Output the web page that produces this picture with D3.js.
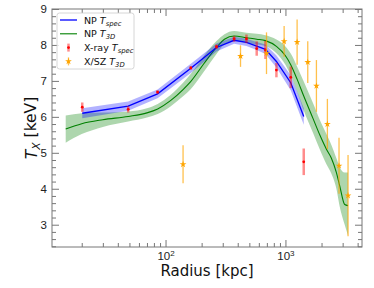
<!DOCTYPE html>
<html>
<head>
<meta charset="utf-8">
<script src="https://cdn.jsdelivr.net/npm/d3@7"></script>
<style>
  body { margin: 0; background: #fff; }
  svg { font-family: "DejaVu Sans", sans-serif; }
</style>
</head>
<body>
<div id="wrapper"></div>
<script>
// NP T_spec (blue) model
const specR = [20.2, 48.8, 85.8, 162.5, 266, 373, 473, 576, 681, 841, 1107, 1421];
const specMid = [6.10, 6.30, 6.64, 7.35, 7.93, 8.13, 8.07, 7.97, 7.88, 7.54, 6.95, 6.01];
const specHalf = [0.14, 0.13, 0.12, 0.13, 0.11, 0.1, 0.1, 0.11, 0.13, 0.17, 0.21, 0.23];

// NP T_3D (green) model
const t3dR = [14.7, 20, 30, 48.8, 70, 86, 110, 140, 162, 210, 266, 310, 373, 473, 576, 681, 841, 1000, 1107, 1250, 1421, 1700, 1932, 2197, 2417, 2661, 2836, 3120, 3327];
const t3dMid = [5.66, 5.81, 5.92, 6.01, 6.11, 6.22, 6.45, 6.76, 6.98, 7.49, 7.93, 8.16, 8.25, 8.2, 8.16, 8.12, 7.96, 7.7, 7.45, 7.05, 6.58, 5.95, 5.5, 5.1, 4.85, 4.45, 4.08, 3.56, 3.53];
const t3dHi = [6.04, 6.1, 6.12, 6.15, 6.24, 6.36, 6.61, 6.95, 7.19, 7.71, 8.11, 8.3, 8.39, 8.34, 8.31, 8.27, 8.15, 7.96, 7.76, 7.4, 6.98, 6.38, 5.92, 5.52, 5.22, 4.85, 4.6, 4.45, 4.45];
const t3dLo = [5.28, 5.52, 5.72, 5.87, 5.98, 6.08, 6.29, 6.57, 6.77, 7.27, 7.75, 8.02, 8.12, 8.06, 8.01, 7.97, 7.77, 7.45, 7.15, 6.7, 6.18, 5.55, 5.1, 4.68, 4.42, 4.0, 3.5, 3.0, 2.7];

// X-ray T_spec data (red)
const xrayR = [20.2, 48.8, 85.8, 162.5, 266, 373, 473, 576, 681, 841, 1107, 1421];
const xrayT = [6.27, 6.21, 6.69, 7.36, 7.95, 8.17, 8.17, 7.90, 7.86, 7.30, 7.10, 4.75];
const xrayErr = [0.13, 0.09, 0.05, 0.05, 0.06, 0.08, 0.12, 0.2, 0.25, 0.2, 0.3, 0.37];

// X/SZ T_3D data (orange)
const xszR = [140, 422, 695, 975, 1251, 1535, 1813, 2238, 2798, 3327];
const xszT = [4.68, 7.69, 7.77, 8.10, 8.08, 7.52, 6.86, 5.80, 4.64, 3.81];
const xszErr = [0.53, 0.3, 0.58, 0.43, 0.63, 0.58, 0.72, 0.7, 0.78, 1.13];

const yMajor = [3, 4, 5, 6, 7, 8, 9];
const xMajor = [100, 1000];

const dim = { width: 374, height: 288, left: 52, right: 362, top: 9, bottom: 247 };

const svg = d3.select("#wrapper").append("svg")
    .attr("width", dim.width)
    .attr("height", dim.height);

const x = d3.scaleLog().domain([11.3, 4350]).range([dim.left, dim.right]);
const y = d3.scaleLinear().domain([2.38, 9]).range([dim.bottom, dim.top]);

const plot = svg.append("g");

// green band + line
const t3d = t3dR.map((r, i) => ({ r: r, m: t3dMid[i], lo: t3dLo[i], hi: t3dHi[i] }));
plot.append("path").datum(t3d)
    .attr("fill", "green").attr("fill-opacity", 0.32)
    .attr("d", d3.area().x(d => x(d.r)).y0(d => y(d.lo)).y1(d => y(d.hi)).curve(d3.curveMonotoneX));
plot.append("path").datum(t3d)
    .attr("fill", "none").attr("stroke", "green").attr("stroke-width", 1.1)
    .attr("d", d3.line().x(d => x(d.r)).y(d => y(d.m)).curve(d3.curveMonotoneX));

// blue band + line
const spec = specR.map((r, i) => ({ r: r, m: specMid[i], h: specHalf[i] }));
plot.append("path").datum(spec)
    .attr("fill", "blue").attr("fill-opacity", 0.3)
    .attr("d", d3.area().x(d => x(d.r)).y0(d => y(d.m - d.h)).y1(d => y(d.m + d.h)));
plot.append("path").datum(spec)
    .attr("fill", "none").attr("stroke", "blue").attr("stroke-width", 1.3)
    .attr("d", d3.line().x(d => x(d.r)).y(d => y(d.m)));

// red points
const xray = xrayR.map((r, i) => ({ r: r, t: xrayT[i], e: xrayErr[i] }));
const gRed = plot.append("g").selectAll("g").data(xray).join("g");
gRed.append("line")
    .attr("x1", d => x(d.r)).attr("x2", d => x(d.r))
    .attr("y1", d => y(d.t - d.e)).attr("y2", d => y(d.t + d.e))
    .attr("stroke", "red").attr("stroke-opacity", 0.45).attr("stroke-width", 2.5);
gRed.append("circle")
    .attr("cx", d => x(d.r)).attr("cy", d => y(d.t)).attr("r", 1.4)
    .attr("fill", "red");

// orange points
const xsz = xszR.map((r, i) => ({ r: r, t: xszT[i], e: xszErr[i] }));
const gOr = plot.append("g").selectAll("g").data(xsz).join("g");
gOr.append("line")
    .attr("x1", d => x(d.r)).attr("x2", d => x(d.r))
    .attr("y1", d => y(d.t - d.e)).attr("y2", d => y(d.t + d.e))
    .attr("stroke", "orange").attr("stroke-opacity", 0.7).attr("stroke-width", 1.3);
gOr.append("path")
    .attr("transform", d => `translate(${x(d.r)},${y(d.t)})`)
    .attr("d", d3.symbol(d3.symbolStar, 14))
    .attr("fill", "orange");

// axes
const tickCol = "#777";
const xMinor = [];
[10, 100, 1000].forEach(b => { for (let k = 2; k <= 9; k++) { const v = b * k; if (v > 11.3 && v < 4350) xMinor.push(v); } });
const yMinor = d3.range(2.4, 9.0001, 0.2).filter(v => Math.abs(v - Math.round(v)) > 0.01);

function styleAxis(g) {
    g.select(".domain").remove();
    g.selectAll(".tick line").attr("stroke", tickCol);
    g.selectAll(".tick text").attr("fill", "#222").attr("font-size", 11.5);
}

const gxb = svg.append("g").attr("transform", `translate(0,${dim.bottom})`)
    .call(d3.axisBottom(x).tickValues(xMajor).tickSize(-7).tickPadding(5))
    .call(styleAxis);
gxb.selectAll(".tick text").each(function(d) {
    const t = d3.select(this);
    t.text("10");
    t.append("tspan").attr("dy", "-0.55em").attr("font-size", "0.7em").text(Math.round(Math.log10(d)));
});
svg.append("g").attr("transform", `translate(0,${dim.bottom})`)
    .call(d3.axisBottom(x).tickValues(xMinor).tickSize(-4).tickFormat(""))
    .call(styleAxis);
svg.append("g").attr("transform", `translate(0,${dim.top})`)
    .call(d3.axisTop(x).tickValues(xMajor).tickSize(-7).tickFormat(""))
    .call(styleAxis);
svg.append("g").attr("transform", `translate(0,${dim.top})`)
    .call(d3.axisTop(x).tickValues(xMinor).tickSize(-4).tickFormat(""))
    .call(styleAxis);

svg.append("g").attr("transform", `translate(${dim.left},0)`)
    .call(d3.axisLeft(y).tickValues(yMajor).tickSize(-7).tickPadding(5).tickFormat(d3.format("d")))
    .call(styleAxis);
svg.append("g").attr("transform", `translate(${dim.left},0)`)
    .call(d3.axisLeft(y).tickValues(yMinor).tickSize(-4).tickFormat(""))
    .call(styleAxis);
svg.append("g").attr("transform", `translate(${dim.right},0)`)
    .call(d3.axisRight(y).tickValues(yMajor).tickSize(-7).tickFormat(""))
    .call(styleAxis);
svg.append("g").attr("transform", `translate(${dim.right},0)`)
    .call(d3.axisRight(y).tickValues(yMinor).tickSize(-4).tickFormat(""))
    .call(styleAxis);

svg.append("rect")
    .attr("x", dim.left).attr("y", dim.top)
    .attr("width", dim.right - dim.left).attr("height", dim.bottom - dim.top)
    .attr("fill", "none").attr("stroke", tickCol).attr("stroke-width", 1);

// axis labels
svg.append("text")
    .attr("x", (dim.left + dim.right) / 2).attr("y", 276)
    .attr("text-anchor", "middle").attr("font-size", 15).attr("fill", "#111")
    .text("Radius [kpc]");
const yl = svg.append("text")
    .attr("transform", `translate(37,${(dim.top + dim.bottom) / 2}) rotate(-90)`)
    .attr("text-anchor", "middle").attr("font-size", 15.5).attr("fill", "#111");
yl.append("tspan").attr("font-style", "italic").text("T");
yl.append("tspan").attr("font-style", "italic").attr("font-size", "0.7em").attr("dy", "0.3em").text("X");
yl.append("tspan").attr("dy", "-0.3em").text(" [keV]");

// legend
const lg = svg.append("g").attr("transform", "translate(57,13)");
lg.append("rect").attr("width", 77).attr("height", 56).attr("rx", 2.5)
    .attr("fill", "#fff").attr("fill-opacity", 0.8).attr("stroke", "#ccc").attr("stroke-width", 0.8);
const legItems = [
    { name: "NP ", sub: "spec", kind: "line", color: "blue" },
    { name: "NP ", sub: "3D", kind: "line", color: "green" },
    { name: "X-ray ", sub: "spec", kind: "red", color: "red" },
    { name: "X/SZ ", sub: "3D", kind: "orange", color: "orange" }
];
legItems.forEach((it, i) => {
    const cy = 7 + i * 13.8;
    const g = lg.append("g").attr("transform", `translate(0,${cy})`);
    if (it.kind === "line") {
        g.append("line").attr("x1", 3).attr("x2", 20).attr("y1", 0).attr("y2", 0)
            .attr("stroke", it.color).attr("stroke-width", it.color === "blue" ? 1.3 : 1.1);
    } else if (it.kind === "red") {
        g.append("line").attr("x1", 11.5).attr("x2", 11.5).attr("y1", -4).attr("y2", 4)
            .attr("stroke", "red").attr("stroke-opacity", 0.45).attr("stroke-width", 2.5);
        g.append("circle").attr("cx", 11.5).attr("cy", 0).attr("r", 1.4).attr("fill", "red");
    } else {
        g.append("line").attr("x1", 11.5).attr("x2", 11.5).attr("y1", -4).attr("y2", 4)
            .attr("stroke", "orange").attr("stroke-opacity", 0.7).attr("stroke-width", 1.3);
        g.append("path").attr("transform", "translate(11.5,0)")
            .attr("d", d3.symbol(d3.symbolStar, 14)).attr("fill", "orange");
    }
    const t = g.append("text").attr("x", 27).attr("y", 3.5).attr("font-size", 9.5).attr("fill", "#111");
    t.append("tspan").text(it.name);
    t.append("tspan").attr("font-style", "italic").text("T");
    t.append("tspan").attr("font-style", "italic").attr("font-size", "0.72em").attr("dy", "0.3em").text(it.sub);
});
</script>
</body>
</html>
